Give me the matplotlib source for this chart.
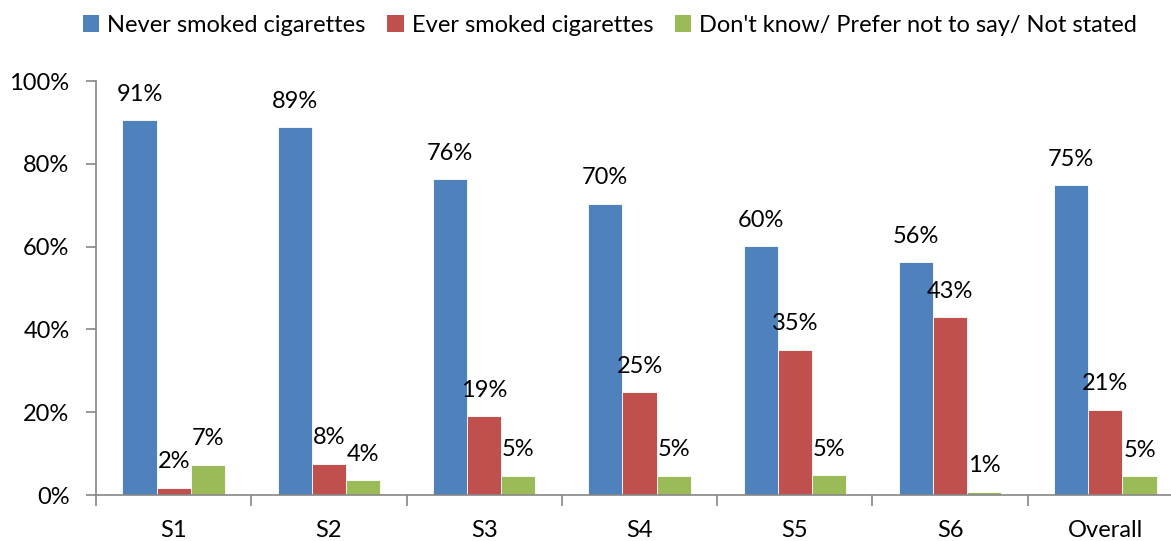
import matplotlib
matplotlib.use("Agg")
import matplotlib.pyplot as plt
import numpy as np
from matplotlib.patches import Patch

plt.rcParams['font.family'] = ['Lato', 'DejaVu Sans']

categories = ["S1", "S2", "S3", "S4", "S5", "S6", "Overall"]
never_smoked = [90.6, 88.9, 76.3, 70.4, 60.1, 56.3, 74.9]
ever_smoked = [1.8, 7.6, 19.1, 24.9, 35.1, 43.0, 20.6]
not_stated = [7.3, 3.6, 4.7, 4.7, 4.8, 0.8, 4.6]
series_names = ["Never smoked cigarettes", "Ever smoked cigarettes",
                "Don't know/ Prefer not to say/ Not stated"]
colors = ["#4F81BD", "#C0504D", "#9BBB59"]
yticks = [0, 20, 40, 60, 80, 100]

W, H = 1171, 541
FS = 17
fig = plt.figure(figsize=(W / 100, H / 100), dpi=100)
# axes runs slightly past the right edge of the figure
left, right, bottom, top = 96, 1183, 495, 81
ax = fig.add_axes([left / W, 1 - bottom / H, (right - left) / W, (bottom - top) / H])

x = np.arange(len(categories))
bw = 0.22
axis_gray = "#868686"
for i, (vals, c) in enumerate(zip([never_smoked, ever_smoked, not_stated], colors)):
    pos = x + (i - 1) * bw
    ax.bar(pos, vals, width=bw, color=c, edgecolor="white", linewidth=0.6)
    for p, v in zip(pos, vals):
        ax.text(p, v + 3.7, f"{round(v):.0f}%", ha="center", va="bottom",
                fontsize=FS, color="black")

ax.set_xlim(-0.5, len(categories) - 0.5)
ax.set_ylim(0, 100)
ax.set_yticks(yticks)
ax.set_yticklabels([f"{t}%" for t in yticks], fontsize=FS)
ax.set_xticks(x)
ax.set_xticklabels(categories, fontsize=FS)
ax.set_xticks(np.arange(-0.5, len(categories)), minor=True)
ax.tick_params(axis="x", which="major", length=0, pad=18)
ax.tick_params(axis="x", which="minor", length=8, color=axis_gray, width=1.2, direction="out")
ax.tick_params(axis="y", length=7, color=axis_gray, width=1.2, direction="out", pad=12)

for s in ["top", "right"]:
    ax.spines[s].set_visible(False)
for s in ["left", "bottom"]:
    ax.spines[s].set_color(axis_gray)
    ax.spines[s].set_linewidth(1.2)

handles = [Patch(facecolor=c, edgecolor="none") for c in colors]
fig.legend(handles, series_names, loc="center", bbox_to_anchor=(610 / W, 1 - 25 / H),
           ncol=3, frameon=False, fontsize=FS, handlelength=0.7, handleheight=0.7,
           handletextpad=0.35, columnspacing=0.9, borderaxespad=0)

fig.savefig("out.png", dpi=100)
